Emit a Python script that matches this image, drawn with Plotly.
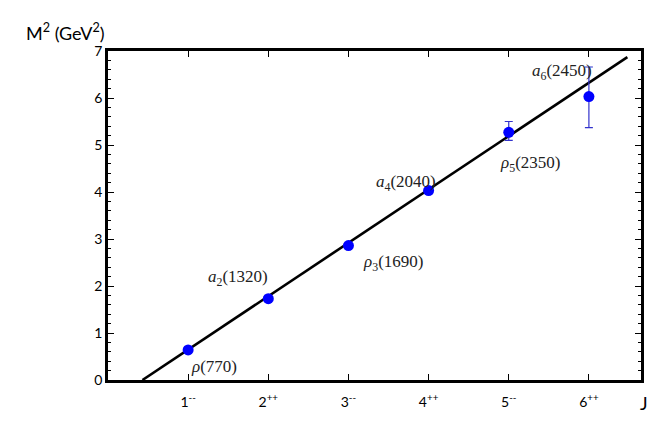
import plotly.graph_objects as go

# Regge trajectory data
J_vals = [1, 2, 3, 4, 5, 6]
J_labels = ["1<sup>--</sup>", "2<sup>++</sup>", "3<sup>--</sup>", "4<sup>++</sup>", "5<sup>--</sup>", "6<sup>++</sup>"]
M2_vals = [0.64, 1.73, 2.86, 4.03, 5.27, 6.03]
err_plus = [0, 0, 0, 0, 0.23, 0.63]
err_minus = [0, 0, 0, 0, 0.17, 0.66]

# fitted line M^2 = slope * (J - J0)
fit_J = [0.43, 6.48]
fit_M2 = [0.0, 6.87]

state_names = ["<i>ρ</i>(770)", "<i>a</i><sub>2</sub>(1320)", "<i>ρ</i><sub>3</sub>(1690)",
               "<i>a</i><sub>4</sub>(2040)", "<i>ρ</i><sub>5</sub>(2350)", "<i>a</i><sub>6</sub>(2450)"]
label_x = [1.32, 1.62, 3.55, 3.72, 5.27, 5.67]
label_y = [0.28, 2.17, 2.5, 4.2, 4.6, 6.55]

fig = go.Figure()
fig.add_trace(go.Scatter(
    x=fit_J, y=fit_M2, mode="lines",
    line=dict(color="black", width=2.6), showlegend=False,
))
fig.add_trace(go.Scatter(
    x=J_vals, y=M2_vals, mode="markers",
    marker=dict(color="#0000ff", size=11),
    error_y=dict(type="data", symmetric=False, array=err_plus, arrayminus=err_minus,
                 color="#3333cc", thickness=1.2, width=4),
    showlegend=False,
))

for name, lx, ly in zip(state_names, label_x, label_y):
    fig.add_annotation(x=lx, y=ly, text=name, showarrow=False,
                       font=dict(family="Liberation Serif", size=17, color="#222222"))

# page body has an 8px margin, so the figure is shrunk by that much
fig.update_layout(
    width=657, height=423,
    margin=dict(l=100, r=24, t=43, b=51),
    plot_bgcolor="white", paper_bgcolor="white",
    font=dict(family="Lato", size=14, color="black"),
    showlegend=False,
)
fig.add_annotation(x=-0.158, y=1.058, xref="paper", yref="paper", xanchor="left", yanchor="middle",
                   text="M<sup>2</sup> (GeV<sup>2</sup>)", showarrow=False,
                   font=dict(family="Lato", size=18))
fig.add_annotation(x=0.994, y=-0.07, xref="paper", yref="paper", xanchor="left", yanchor="middle",
                   text="J", showarrow=False, font=dict(family="Lato", size=18))

fig.update_xaxes(
    range=[0, 6.65], tickvals=J_vals, ticktext=J_labels, automargin=False,
    showgrid=False, zeroline=False, showline=True, linecolor="black", linewidth=2.5,
    mirror="ticks", ticks="inside", ticklen=6, tickwidth=1.2, tickcolor="black",
    tickfont=dict(size=14), ticklabelstandoff=7,
)
fig.update_yaxes(
    range=[0, 7], dtick=1, showgrid=False, zeroline=False, showline=True, automargin=False,
    linecolor="black", linewidth=2.5, mirror="ticks", ticks="inside",
    ticklen=6, tickwidth=1.2, tickcolor="black", tickfont=dict(size=14),
    minor=dict(dtick=0.2, ticks="inside", ticklen=3, tickwidth=1, tickcolor="black"),
)

fig.write_html("out.html")
